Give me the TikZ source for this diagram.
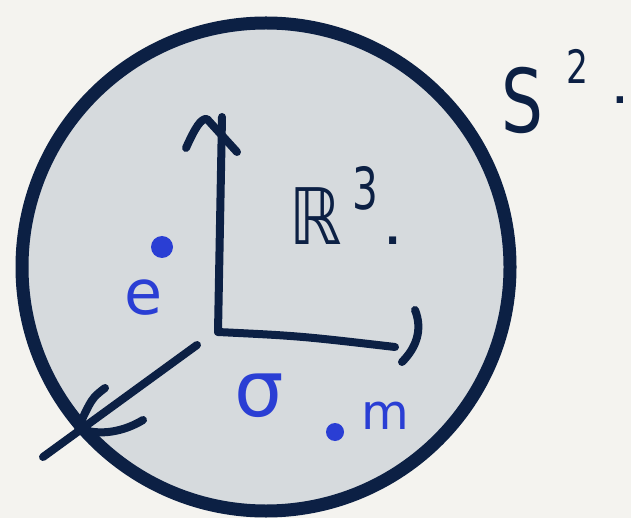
\documentclass[tikz,border=0pt]{standalone}
\usepackage{fontspec}
\setmainfont{DejaVu Sans}
\usetikzlibrary{positioning}
\definecolor{inknavy}{RGB}{12,32,68}
\definecolor{inkblue}{RGB}{42,62,212}
\definecolor{spherefill}{RGB}{214,218,221}
\definecolor{paper}{RGB}{244,243,239}

\begin{document}
\begin{tikzpicture}[x=1pt, y=-1pt, line cap=round, line join=round,
    pen/.style={draw=inknavy, line width=8pt},
    navytext/.style={text=inknavy, inner sep=0pt},
    bluetext/.style={text=inkblue, inner sep=0pt},
    bluepoint/.style={circle, fill=inkblue, inner sep=0pt, minimum size=#1}]
        % Paper
        \fill[paper] (0,0) rectangle (631,518);
        \useasboundingbox (0,0) rectangle (631,518);

        % Sphere
        \begin{scope}
            \clip (0,0) rectangle (631,518);
            \draw[line width=13pt, draw=inknavy, fill=spherefill] (266,267) circle [radius=244];
        \end{scope}

        % Axes
        \coordinate (O) at (218,332);
        \coordinate (up) at (222,117);
        \coordinate (right) at (395,347);
        \coordinate (front) at (197,345);
        \coordinate (back) at (43,457);
        \coordinate (tip) at (78,428);
        \draw[pen] (O) -- (up);
        \draw[pen] (186,148) .. controls (195,128) and (201,118) .. (207,119) -- (237,152);
        \draw[pen] (O) .. controls (300,336) .. (right);
        \draw[pen] (415,310) .. controls (423,330) and (416,348) .. (402,362);
        \draw[pen] (front) -- (back);
        \draw[pen] (105,388) .. controls (92,398) .. (tip) .. controls (100,437) and (125,431) .. (143,420);

        % Labels
        \node[navytext, font=\fontsize{88}{88}\selectfont, xscale=0.75] (S) at (522,100) {S};
        \node[navytext, font=\fontsize{46}{46}\selectfont, xscale=0.75] (Sexp) at (577,66) {2};
        \node[navytext, font=\fontsize{36}{36}\selectfont\bfseries, anchor=base] (Sdot) at (620,104) {.};
        \node[navytext, font=\fontsize{78}{78}\selectfont, xscale=0.85] (R) at (316,216) {ℝ};
        \node[navytext, font=\fontsize{58}{58}\selectfont, xscale=0.7] (Rexp) at (365,188) {3};
        \node[navytext, font=\fontsize{40}{40}\selectfont\bfseries, anchor=base] (Rdot) at (393,245) {.};

        % Points
        \node[bluepoint=22pt] (pe) at (162,247) {};
        \node[bluetext, font=\fontsize{62}{62}\selectfont] (e) at (144,298) {e};
        \node[bluetext, font=\fontsize{78}{78}\selectfont] (sigma) at (259,396) {σ};
        \node[bluepoint=18pt] (pm) at (335,432) {};
        \node[bluetext, font=\fontsize{49}{49}\selectfont] (m) at (385,416) {m};
    \end{tikzpicture}
\end{document}
